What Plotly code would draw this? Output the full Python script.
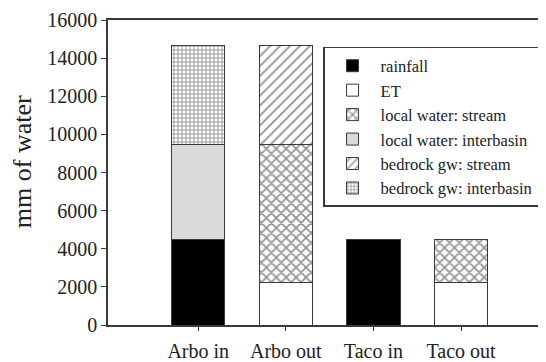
import plotly.graph_objects as go

categories = ["Arbo in", "Arbo out", "Taco in", "Taco out"]
positions = [0, 1, 2, 3]

rainfall = [4480, None, 4480, None]
et = [None, 2220, None, 2220]
local_stream = [None, 7230, None, 2260]
local_interbasin = [4970, None, None, None]
bedrock_stream = [None, 5200, None, None]
bedrock_interbasin = [5200, None, None, None]

y_ticks = [0, 2000, 4000, 6000, 8000, 10000, 12000, 14000, 16000]
y_tick_labels = [str(v) for v in y_ticks]
y_title = "mm of water"

FONT = "Liberation Serif, Times New Roman, serif"
LINE = "#3a3a3a"

series = [
    ("rainfall", rainfall, "#000000", ""),
    ("ET", et, "#ffffff", ""),
    ("local water: stream", local_stream, "#ffffff", "x"),
    ("local water: interbasin", local_interbasin, "#d9d9d9", ""),
    ("bedrock gw: stream", bedrock_stream, "#ffffff", "/"),
    ("bedrock gw: interbasin", bedrock_interbasin, "#ffffff", "+"),
]
pattern_sizes = {"x": 7, "/": 7, "+": 4}
pattern_solid = {"x": 0.4, "/": 0.25, "+": 0.4}

fig = go.Figure()
for name, vals, color, shape in series:
    marker = dict(color=color, line=dict(color=LINE, width=1))
    if shape:
        marker["pattern"] = dict(shape=shape, fgcolor="#222222", bgcolor=color,
                                 size=pattern_sizes[shape], solidity=pattern_solid[shape])
    fig.add_trace(go.Bar(x=positions, y=vals, name=name, width=0.61, marker=marker))

# page body has an 8px default margin, so the figure is sized/margined to compensate
fig.update_layout(
    width=538, height=354,
    margin=dict(l=100, r=0, t=12, b=37),
    barmode="stack",
    plot_bgcolor="white", paper_bgcolor="white",
    font=dict(family=FONT, color="#222222"),
    showlegend=True,
    legend=dict(
        x=0.491, y=0.9115, xanchor="left", yanchor="top",
        bordercolor=LINE, borderwidth=1.5, bgcolor="white",
        font=dict(family=FONT, size=16.5, color="#222222"),
        itemwidth=46, tracegroupgap=0, traceorder="normal",
    ),
    annotations=[dict(
        text=y_title, textangle=-90, showarrow=False,
        xref="paper", yref="paper", x=0, y=0.534,
        xanchor="center", yanchor="middle", xshift=-86,
        font=dict(family=FONT, size=26, color="#222222"),
    )],
)
fig.update_xaxes(
    range=[-1.03, 3.97], tickvals=positions, ticktext=categories,
    showline=True, linecolor=LINE, linewidth=1.5, mirror=True,
    ticks="outside", ticklen=4, tickcolor=LINE,
    showgrid=False, zeroline=False, automargin=False,
    tickfont=dict(family=FONT, size=20, color="#222222"),
    ticklabelstandoff=3,
)
fig.update_yaxes(
    range=[0, 16000], tickvals=y_ticks, ticktext=y_tick_labels,
    showline=True, linecolor=LINE, linewidth=1.5,
    ticks="outside", ticklen=5, tickcolor=LINE,
    showgrid=False, zeroline=False, automargin=False,
    tickfont=dict(family=FONT, size=20, color="#222222"),
    ticklabelstandoff=0,
)

fig.write_html("out.html")
